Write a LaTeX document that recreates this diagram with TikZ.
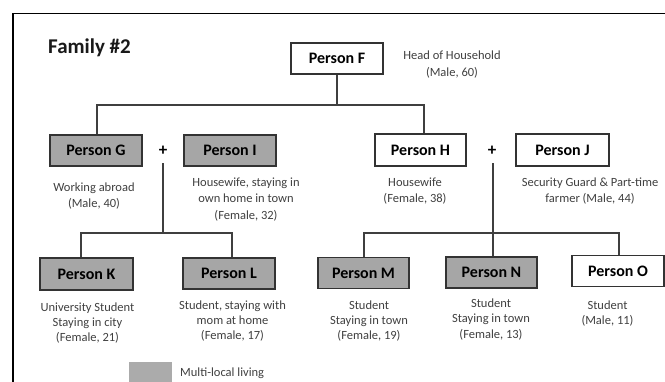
\documentclass[tikz,border=0pt]{standalone}
\usepackage{fontspec}
\setmainfont{Carlito}
\definecolor{boxgray}{HTML}{A6A6A6}
\definecolor{leggray}{HTML}{ABABAB}
\definecolor{boxline}{HTML}{333333}
\definecolor{connline}{HTML}{3F3F3F}
\definecolor{desctext}{HTML}{404040}
\begin{document}
\begin{tikzpicture}[x=1pt,y=-1pt,
  pbox/.style={draw=boxline, line width=1.3pt, minimum width=92pt, minimum height=31pt, inner sep=0pt, font=\fontsize{16}{18}\selectfont\bfseries, text=black},
  multibox/.style={pbox, fill=boxgray},
  homebox/.style={pbox, fill=white},
  desc/.style={align=center, text=desctext, inner sep=0pt, font=\fontsize{12.5}{16.3}\selectfont},
  descb/.style={desc, font=\fontsize{12.5}{15.2}\selectfont},
  conn/.style={draw=connline, line width=1.3pt},
  plus/.style={inner sep=0pt, font=\fontsize{17}{17}\selectfont\bfseries, text=black}
]
\useasboundingbox (0,0) rectangle (665,381);
\clip (0,0) rectangle (665,381);
\fill[white] (0,0) rectangle (665,381);
% frame
\draw[line width=1.4pt, black] (13,390) -- (13,13.5) -- (680,13.5);
% title
\node[anchor=base west, inner sep=0pt, font=\fontsize{21}{21}\selectfont\bfseries, text=black!90] (title) at (48,53) {Family \#2};
% boxes
\node[homebox] (F) at (337,58.5) {Person F};
\node[multibox] (G) at (96,150.5) {Person G};
\node[multibox] (I) at (230,150.5) {Person I};
\node[homebox, minimum width=91pt, minimum height=32pt] (H) at (420.5,150) {Person H};
\node[homebox, minimum width=93pt, minimum height=32pt] (J) at (562.5,150) {Person J};
\node[multibox, minimum width=93pt, minimum height=32pt] (K) at (86.5,274) {Person K};
\node[multibox] (L) at (229,273.5) {Person L};
\node[multibox, minimum width=91pt] (M) at (363.5,273) {Person M};
\node[multibox, minimum width=91pt] (N) at (491.5,272.5) {Person N};
\node[homebox] (O) at (618,271) {Person O};
% plus signs
\node[plus] (p1) at (163,151) {+};
\node[plus] (p2) at (492,151) {+};
% descriptions
\node[desc] (dF) at (452,64.5) {Head of Household\\(Male, 60)};
\node[desc] (dG) at (94,196) {Working abroad\\(Male, 40)};
\node[desc] (dI) at (246,199.5) {Housewife, staying in\\own home in town\\(Female, 32)};
\node[desc] (dH) at (415,191) {Housewife\\(Female, 38)};
\node[desc] (dJ) at (590,191) {Security Guard \& Part-time\\farmer (Male, 44)};
\node[descb] (dK) at (87.5,323) {University Student\\Staying in city\\(Female, 21)};
\node[descb] (dL) at (232.5,321) {Student, staying with\\mom at home\\(Female, 17)};
\node[descb] (dM) at (369,321) {Student\\Staying in town\\(Female, 19)};
\node[descb] (dN) at (491,319.5) {Student\\Staying in town\\(Female, 13)};
\node[descb] (dO) at (607.5,313.5) {Student\\(Male, 11)};
% legend
\node[fill=leggray, minimum width=43pt, minimum height=26pt, inner sep=0pt] (leg) at (150.5,375) {};
\node[desc, anchor=west] (legt) at (180,373) {Multi-local living};
% connectors
\coordinate (b1) at (97,105);
\coordinate (b2) at (424,105);
\draw[conn] (F.south) -- (F.south |- b1);
\draw[conn] (G.north -| b1) -- (b1) -- (b2) -- (H.north -| b2);
\coordinate (c1) at (81,233);
\coordinate (c2) at (232,233);
\coordinate (p1d) at (163,163);
\draw[conn] (K.north -| c1) -- (c1) -- (c2) -- (L.north -| c2);
\draw[conn] (p1d) -- (p1d |- c1);
\coordinate (d1) at (364,233);
\coordinate (d3) at (619,233);
\coordinate (p2d) at (493,163);
\draw[conn] (M.north -| d1) -- (d1) -- (d3) -- (O.north -| d3);
\draw[conn] (p2d) -- (N.north -| p2d);
\end{tikzpicture}
\end{document}
